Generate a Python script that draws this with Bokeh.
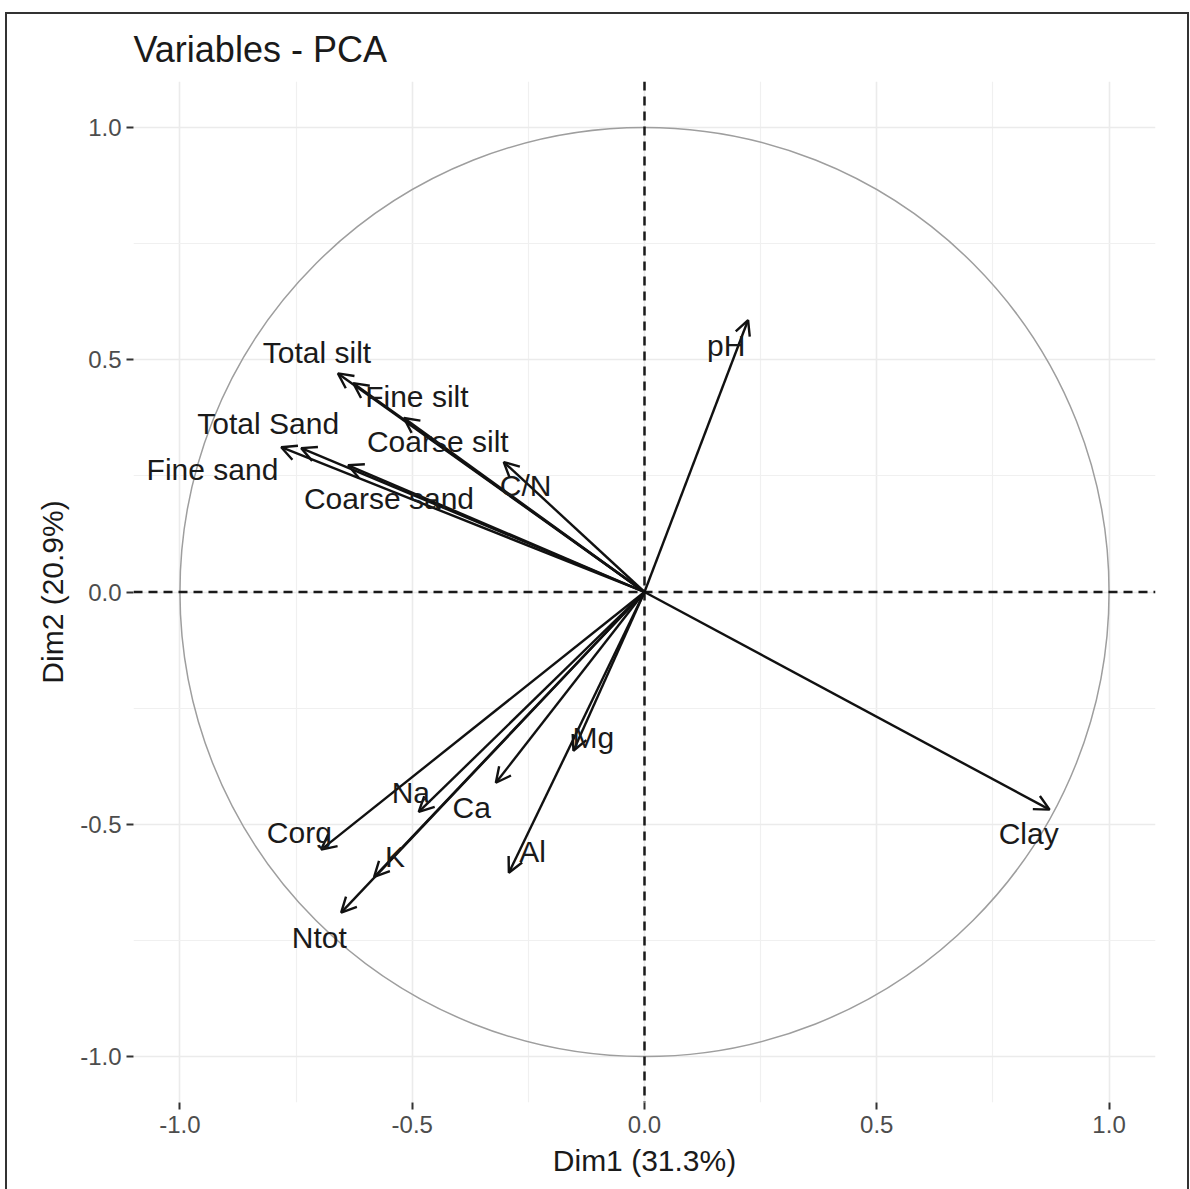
from bokeh.plotting import figure
from bokeh.models import (ColumnDataSource, Arrow, OpenHead, LabelSet, Span,
                          FixedTicker, NumeralTickFormatter, Range1d)
from bokeh.core.properties import value
from bokeh.embed import file_html
from bokeh.resources import INLINE

# ---- data ----
variables = ["pH", "Clay", "Total silt", "Fine silt", "Coarse silt", "C/N",
             "Total Sand", "Fine sand", "Coarse sand", "Corg", "Na", "Ca",
             "K", "Ntot", "Al", "Mg"]
dim1 = [0.223, 0.872, -0.660, -0.627, -0.518, -0.303,
        -0.782, -0.739, -0.638, -0.696, -0.486, -0.320,
        -0.582, -0.653, -0.292, -0.153]
dim2 = [0.586, -0.469, 0.471, 0.450, 0.375, 0.280,
        0.312, 0.310, 0.273, -0.555, -0.474, -0.411,
        -0.614, -0.691, -0.605, -0.342]
# label anchor positions (repelled text)
label_x = [0.176, 0.827, -0.705, -0.490, -0.445, -0.256,
           -0.810, -0.930, -0.550, -0.743, -0.503, -0.372,
           -0.537, -0.700, -0.241, -0.110]
label_y = [0.532, -0.521, 0.517, 0.422, 0.325, 0.230,
           0.362, 0.263, 0.202, -0.519, -0.431, -0.465,
           -0.571, -0.745, -0.560, -0.314]
axis_ticks = [-1.0, -0.5, 0.0, 0.5, 1.0]
minor_ticks = [-0.75, -0.25, 0.25, 0.75]
title_text = "Variables - PCA"
xlab = "Dim1 (31.3%)"
ylab = "Dim2 (20.9%)"

FONT = "Liberation Sans"

src = ColumnDataSource(dict(
    name=variables, x=dim1, y=dim2,
    x0=[0.0] * len(dim1), y0=[0.0] * len(dim2),
    lx=label_x, ly=label_y,
))

p = figure(width=1180, height=1175, output_backend="svg", toolbar_location=None,
           x_range=Range1d(-1.1, 1.1), y_range=Range1d(-1.1, 1.1),
           min_border_left=126, min_border_right=32,
           min_border_top=66, min_border_bottom=87,
           background_fill_color="white", border_fill_color="white")
p.margin = (14, 0, 0, 7)
p.styles = {"outline": "2px solid #333333"}
p.outline_line_color = None

# title
p.title.text = title_text
p.title.text_font = FONT
p.title.text_font_size = "36px"
p.title.text_font_style = "normal"
p.title.text_color = "#1a1a1a"
p.title.align = "left"
p.title.standoff = 24

# grids
for g in (p.xgrid[0], p.ygrid[0]):
    g.grid_line_color = "#ebebeb"
    g.grid_line_width = 1.6
    g.minor_grid_line_color = "#f0f0f0"
    g.minor_grid_line_width = 1.2

for ax, lab in ((p.xaxis[0], xlab), (p.yaxis[0], ylab)):
    ax.ticker = FixedTicker(ticks=axis_ticks, minor_ticks=minor_ticks)
    ax.formatter = NumeralTickFormatter(format="0.0")
    ax.axis_line_color = None
    ax.major_tick_line_color = "#333333"
    ax.major_tick_line_width = 2
    ax.major_tick_out = 7
    ax.major_tick_in = 0
    ax.minor_tick_line_color = None
    ax.major_label_text_font = FONT
    ax.major_label_text_font_size = "24px"
    ax.major_label_text_color = "#4d4d4d"
    ax.axis_label = lab
    ax.axis_label_text_font = FONT
    ax.axis_label_text_font_size = "30px"
    ax.axis_label_text_font_style = "normal"
    ax.axis_label_text_color = "#1a1a1a"
p.xaxis[0].major_label_standoff = 6
p.xaxis[0].axis_label_standoff = 8
p.yaxis[0].major_label_standoff = 5
p.yaxis[0].axis_label_standoff = 8

# correlation circle
p.circle(x=[0.0], y=[0.0], radius=1.0, fill_color=None,
         line_color="#9e9e9e", line_width=1.5)

# dashed zero lines
p.add_layout(Span(location=0, dimension="height", line_color="#1a1a1a",
                  line_dash="9 6", line_width=2.5))
p.add_layout(Span(location=0, dimension="width", line_color="#1a1a1a",
                  line_dash="9 6", line_width=2.5))

# arrows
p.add_layout(Arrow(end=OpenHead(size=15, line_width=2.4, line_color="#111111"),
                   x_start="x0", y_start="y0", x_end="x", y_end="y",
                   source=src, line_width=2.4, line_color="#111111"))

# labels
p.add_layout(LabelSet(x="lx", y="ly", text="name", source=src,
                      text_font=value(FONT), text_font_size="30px",
                      text_color="#1a1a1a", text_align="center",
                      text_baseline="middle"))

open("out.html", "w").write(file_html(p, INLINE))
